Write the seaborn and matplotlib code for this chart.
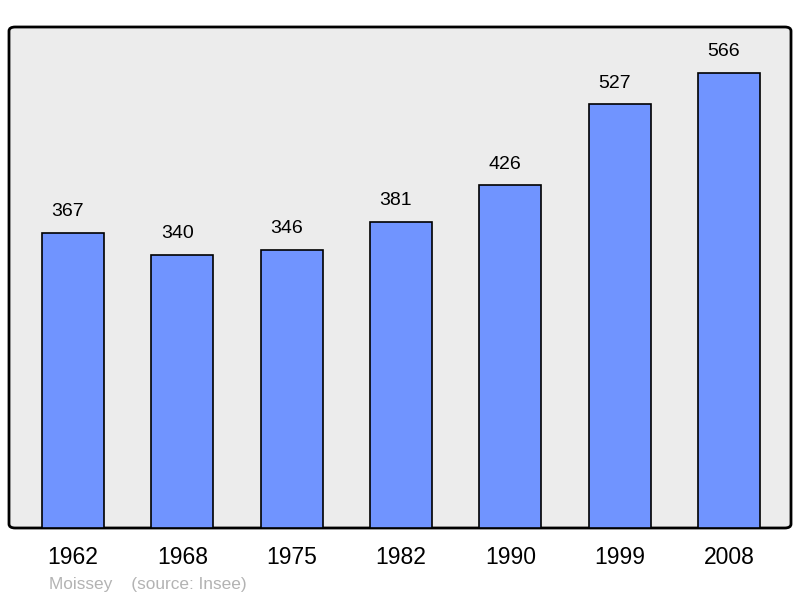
import matplotlib
matplotlib.use("Agg")
import matplotlib.pyplot as plt
import seaborn as sns
import pandas as pd
from matplotlib.patches import FancyBboxPatch

years = ["1962", "1968", "1975", "1982", "1990", "1999", "2008"]
population = [367, 340, 346, 381, 426, 527, 566]
commune = "Moissey"
source = "(source: Insee)"

sns.set_theme(style="white")
plt.rcParams['font.family'] = ['Liberation Sans', 'DejaVu Sans']

df = pd.DataFrame({"year": years, "pop": population})

fig = plt.figure(figsize=(8, 5.98), dpi=100)
ax = fig.add_axes([9/800, 70/598, 782/800, 501/598])
ax.set_facecolor("none")

frame = FancyBboxPatch((0, 0), 1, 1, boxstyle="round,pad=0,rounding_size=0.008",
                       transform=ax.transAxes, facecolor="#ececec", edgecolor="black",
                       linewidth=2, clip_on=False, zorder=0)
ax.add_patch(frame)

sns.barplot(data=df, x="year", y="pop", color="#7094ff", edgecolor="black",
            linewidth=1.2, width=0.567, saturation=1, ax=ax, zorder=2)

for i, v in enumerate(population):
    ax.annotate(str(v), (i, v), xytext=(-3.6, 15.2), textcoords="offset points",
                ha="center", va="center", fontsize=14, color="black")

ax.set_xlim(-0.585, 6.567)
ax.set_ylim(0, 623)
for s in ax.spines.values():
    s.set_visible(False)
ax.set_yticks([])
ax.set_xlabel("")
ax.set_ylabel("")
ax.tick_params(axis="x", length=0, pad=13, labelsize=16.5, colors="black")

fig.text(49/800, 1 - 585/598, commune + "    " + source, fontsize=12.4,
         color="#b3b3b3", ha="left", va="center")

fig.savefig("out.png", dpi=100)
